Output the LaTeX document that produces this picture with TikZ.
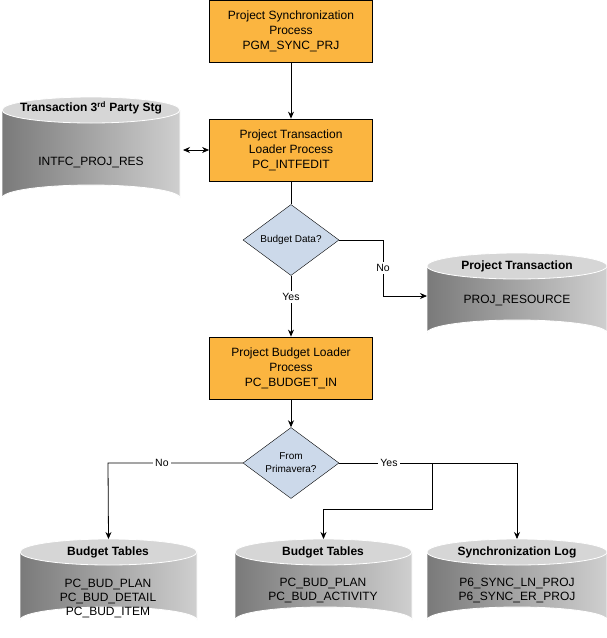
\documentclass[tikz,border=0pt]{standalone}
\usepackage{fontspec}
\setmainfont{Liberation Sans}
\usetikzlibrary{arrows.meta,positioning,shapes.geometric}

\definecolor{procfill}{HTML}{FBB540}
\definecolor{decfill}{HTML}{CCD9EA}
\definecolor{cyldark}{HTML}{7A7A7A}
\definecolor{cyllight}{HTML}{CFCFCF}
\definecolor{cyltop}{HTML}{D6D6D6}

\tikzset{
  proc/.style={draw, thick, fill=procfill, minimum width=163pt, minimum height=62pt,
    align=center, font=\fontsize{12}{15}\selectfont},
  decision/.style={draw, fill=decfill, diamond, aspect=1.35, minimum width=96pt,
    minimum height=71pt, inner sep=0pt, align=center, font=\fontsize{10}{13}\selectfont},
  lbl/.style={fill=white, font=\fontsize{10.5}{12}\selectfont, inner sep=2pt},
  link/.style={thick, -{Stealth[length=7pt,width=6pt]}},
  dbtitle/.style={font=\bfseries\fontsize{12}{14}\selectfont},
  dbtext/.style={align=center, font=\fontsize{12}{14}\selectfont}
}

% cylinder: name, left x, right x, top y, bottom y
\newcommand{\dbcyl}[5]{
  \pgfmathsetmacro{\cx}{(#2+#3)/2}
  \pgfmathsetmacro{\rx}{(#3-#2)/2}
  \shade[left color=cyldark, right color=cyllight, draw=white, thick]
    (#2,#4) -- (#2,#5) arc[start angle=180, end angle=360, x radius=\rx, y radius=13]
    -- (#3,#4) -- cycle;
  \fill[cyltop, draw=white, thick] (\cx,#4) ellipse[x radius=\rx, y radius=13];
  \coordinate (#1-top) at (\cx,#4-13);
  \coordinate (#1-west) at (#2,{(#4+#5)/2});
  \coordinate (#1-east) at (#3,{(#4+#5)/2});
}

\begin{document}
\begin{tikzpicture}[x=1pt, y=-1pt]
  \useasboundingbox (0,0) rectangle (607,638);

  % Databases
  \dbcyl{stg}{2}{180}{110}{198}
  \node[dbtitle] at (91,108) {Transaction 3\textsuperscript{rd} Party Stg};
  \node[dbtext] (stgtxt) at (91,162) {INTFC\_PROJ\_RES};

  \dbcyl{trans}{427}{607}{266}{333}
  \node[dbtitle] at (517,266) {Project Transaction};
  \node[dbtext] at (517,300) {PROJ\_RESOURCE};

  \dbcyl{budA}{20}{197}{552}{620}
  \node[dbtitle] at (108,552) {Budget Tables};
  \node[dbtext] at (108,598) {PC\_BUD\_PLAN\\PC\_BUD\_DETAIL\\PC\_BUD\_ITEM};

  \dbcyl{budB}{235}{412}{552}{620}
  \node[dbtitle] at (323,552) {Budget Tables};
  \node[dbtext] at (323,590) {PC\_BUD\_PLAN\\PC\_BUD\_ACTIVITY};

  \dbcyl{synlog}{427}{607}{552}{620}
  \node[dbtitle] at (517,552) {Synchronization Log};
  \node[dbtext] at (517,590) {P6\_SYNC\_LN\_PROJ\\P6\_SYNC\_ER\_PROJ};

  % Process boxes and decisions
  \node[proc] (sync) at (291,31) {Project Synchronization\\Process\\PGM\_SYNC\_PRJ};
  \node[proc] (loader) at (291,150) {Project Transaction\\Loader Process\\PC\_INTFEDIT};
  \node[decision] (bdata) at (291,240) {Budget Data?};
  \node[proc] (budload) at (291,368) {Project Budget Loader\\Process\\PC\_BUDGET\_IN};
  \node[decision] (prima) at (291,463) {From\\Primavera?};

  % Connectors
  \coordinate (nobend) at (383,296);
  \coordinate (noend) at (427,296);
  \coordinate (leftbend) at (108,463);
  \coordinate (rightbend) at (517,463);
  \coordinate (split) at (432,463);
  \draw[link] (sync) -- (loader);
  \draw[thick, {Stealth[length=7pt,width=6pt]}-{Stealth[length=7pt,width=6pt]}]
    ([xshift=3pt]stg-east |- loader) -- (loader.west);
  \draw[thick] (loader) -- (bdata);
  \draw[link] (bdata.east) -| node[lbl, pos=0.75] {No} (nobend) -- (noend);
  \draw[link] (bdata.south) -- node[lbl, pos=0.35] {Yes} (budload.north);
  \draw[link] (budload) -- (prima);
  \draw[link] (prima.west) -- node[lbl, pos=0.6] {No} (leftbend) -- (budA-top);
  \draw[link] (prima.east) -- node[lbl, pos=0.28] {Yes} (rightbend) -- (synlog-top);
  \draw[link] (split) -- ++(0,46) -| (budB-top);
\end{tikzpicture}
\end{document}
